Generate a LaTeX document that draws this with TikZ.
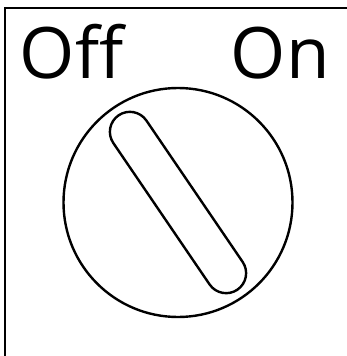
\documentclass[tikz,border=0pt]{standalone}
\usepackage{fontspec}
\setmainfont{Open Sans}
\usetikzlibrary{positioning}

\begin{document}
\begin{tikzpicture}[
    x=1pt, y=-1pt,
    dial/.style={circle, draw, line width=2.4pt, minimum size=229pt, inner sep=0pt},
    slot/.style={rectangle, draw, line width=2.4pt, rounded corners=20pt, minimum width=211pt, minimum height=40pt, inner sep=0pt},
    lbl/.style={inner sep=0pt, font=\fontsize{71}{71}\selectfont}
]
\useasboundingbox (0,0) rectangle (347,356);
\clip (0,0) rectangle (347,356);
\draw[line width=2.8pt] (5,8) rectangle (400,400);

\node[lbl, anchor=base west] (off) at (19.5,78) {Off};
\node[lbl, anchor=base east] (on) at (330,78) {On};

\node[dial] (knob) at (178,202.5) {};
\node[slot, rotate=-55.75] (grip) at (knob.center) {};
\end{tikzpicture}
\end{document}
